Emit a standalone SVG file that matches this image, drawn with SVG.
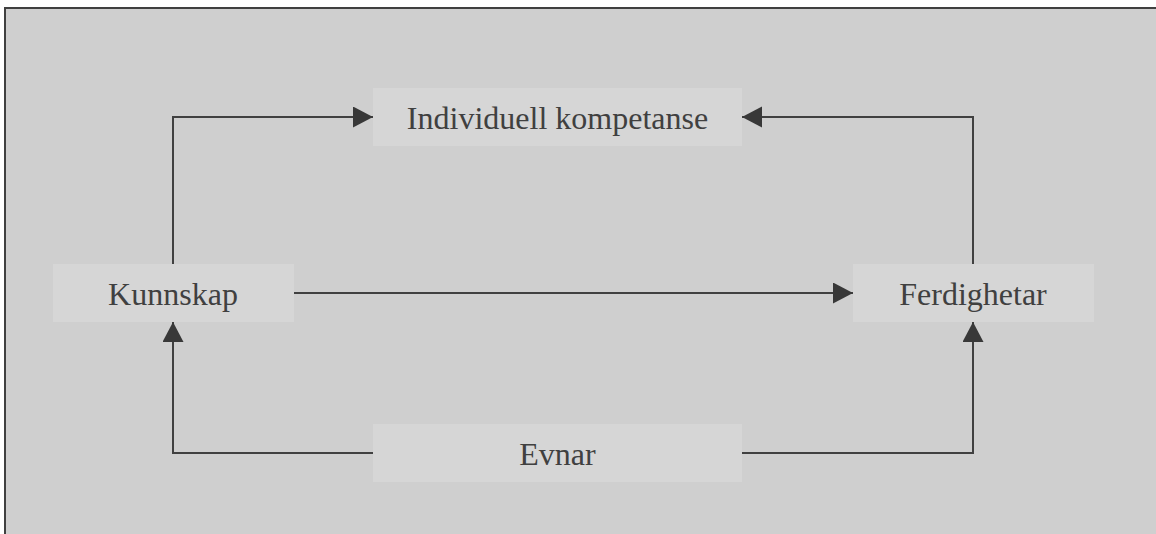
<svg xmlns="http://www.w3.org/2000/svg" width="1156" height="534" viewBox="0 0 1156 534">
  <defs>
    <style>
      .node rect { fill: #d6d6d6; }
      .node text { font-family: "Liberation Serif", "Times New Roman", serif; font-size: 32px; fill: #404040; text-anchor: middle; }
      .conn { fill: none; stroke: #404040; stroke-width: 2; }
    </style>
    <marker id="arrow" markerUnits="userSpaceOnUse" markerWidth="22" markerHeight="22" refX="20" refY="10.5" orient="auto">
      <path d="M0,0 L20,10.5 L0,21 Z" fill="#383838"/>
    </marker>
  </defs>
  <rect x="0" y="0" width="1156" height="534" fill="#ffffff"/>
  <rect x="5" y="8" width="1160" height="540" fill="#cfcfcf" stroke="#404040" stroke-width="2"/>
  <g id="connectors">
    <path class="conn" d="M173,264 L173,117 L373,117" marker-end="url(#arrow)"/>
    <path class="conn" d="M973,264 L973,117 L742,117" marker-end="url(#arrow)"/>
    <path class="conn" d="M293,293 L853,293" marker-end="url(#arrow)"/>
    <path class="conn" d="M373,453 L173,453 L173,322" marker-end="url(#arrow)"/>
    <path class="conn" d="M742,453 L973,453 L973,322" marker-end="url(#arrow)"/>
  </g>
  <g id="individuell" class="node">
    <rect x="373" y="88" width="369" height="58"/>
    <text x="557.5" y="129">Individuell kompetanse</text>
  </g>
  <g id="kunnskap" class="node">
    <rect x="53" y="264" width="241" height="58"/>
    <text x="173" y="305">Kunnskap</text>
  </g>
  <g id="ferdighetar" class="node">
    <rect x="853" y="264" width="241" height="58"/>
    <text x="973" y="305">Ferdighetar</text>
  </g>
  <g id="evnar" class="node">
    <rect x="373" y="424" width="369" height="58"/>
    <text x="557.5" y="465">Evnar</text>
  </g>
</svg>
